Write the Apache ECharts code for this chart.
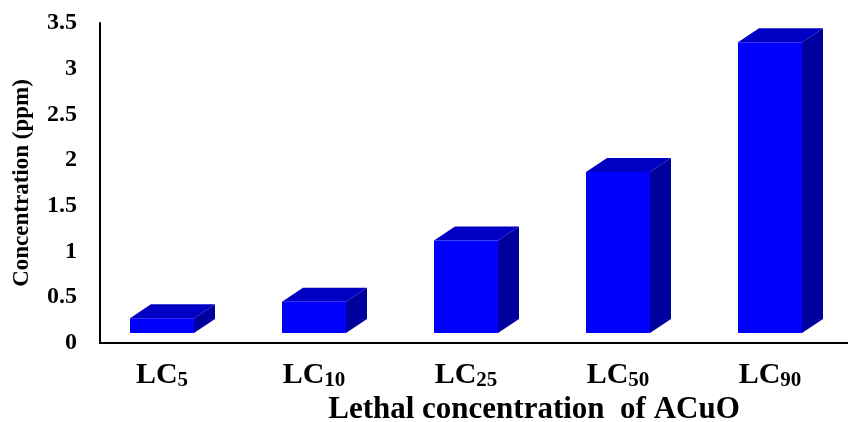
<!DOCTYPE html>
<html>
<head>
<meta charset="utf-8">
<script src="https://cdn.jsdelivr.net/npm/echarts@6/dist/echarts.min.js"></script>
<style>html,body{margin:0;padding:0;background:#fff}#c{width:848px;height:422px}</style>
</head>
<body>
<div id="c"></div>
<script>
// ---- data ----
const categories = ['5', '10', '25', '50', '90'];          // LC subscripts
const concentrations = [0.27, 0.45, 1.12, 1.87, 3.29];    // ppm
const yTickLabels = ['0', '0.5', '1', '1.5', '2', '2.5', '3', '3.5'];
const xTitle = 'Lethal concentration  of ACuO';
const yTitle = 'Concentration (ppm)';

const FONT = 'Liberation Serif';
const FRONT = '#0000FF', TOP = '#0000C4', SIDE = '#00009C';

function renderItem(params, api) {
  const idx = api.value(0);
  const v = api.value(1);
  const top = api.coord([idx, v]);
  const base = api.coord([idx, 0]);
  const w = 64, dx = 21, dy = 14, gap = 10;
  const xl = top[0] - w / 2, xr = top[0] + w / 2;
  const yt = top[1], yb = base[1] - gap;
  return {
    type: 'group',
    children: [
      { type: 'polygon', shape: { points: [[xr, yt], [xr + dx, yt - dy], [xr + dx, yb - dy], [xr, yb]] }, style: { fill: SIDE } },
      { type: 'polygon', shape: { points: [[xl, yt], [xl + dx, yt - dy], [xr + dx, yt - dy], [xr, yt]] }, style: { fill: TOP } },
      { type: 'rect', shape: { x: xl, y: yt, width: w, height: yb - yt }, style: { fill: FRONT } }
    ]
  };
}

const chart = echarts.init(document.getElementById('c'), null, { renderer: 'canvas' });
chart.setOption({
  animation: false,
  backgroundColor: '#fff',
  grid: [
    { left: 100, right: 0, top: 23, bottom: 79, containLabel: false, outerBoundsMode: 'none' },
    { left: 86, right: 2, top: 23, bottom: 79, containLabel: false, outerBoundsMode: 'none' }
  ],
  xAxis: [
    {
      gridIndex: 0, type: 'value', min: 0, max: 1,
      axisLine: { show: true, lineStyle: { color: '#000', width: 2 } },
      axisTick: { show: false }, axisLabel: { show: false }, splitLine: { show: false },
      name: xTitle, nameLocation: 'middle', nameGap: 51,
      nameTextStyle: { fontFamily: FONT, fontWeight: 'bold', fontSize: 31, color: '#000', padding: [0, 0, 0, 120] }
    },
    {
      gridIndex: 1, type: 'category', data: categories,
      axisLine: { show: false }, axisTick: { show: false }, splitLine: { show: false },
      axisLabel: {
        margin: 16,
        interval: 0,
        formatter: v => '{a|LC}{b|' + v + '}',
        rich: {
          a: { fontFamily: FONT, fontWeight: 'bold', fontSize: 30, color: '#000', lineHeight: 32 },
          b: { fontFamily: FONT, fontWeight: 'bold', fontSize: 21, color: '#000', lineHeight: 22, padding: [12, 0, 0, 0] }
        }
      }
    }
  ],
  yAxis: [
    {
      gridIndex: 0, type: 'value', min: 0, max: 3.5, interval: 0.5,
      axisLine: { show: true, lineStyle: { color: '#000', width: 2 } },
      axisTick: { show: false }, splitLine: { show: false },
      axisLabel: {
        margin: 23, fontFamily: FONT, fontWeight: 'bold', fontSize: 24, color: '#000',
        formatter: (v) => yTickLabels[Math.round(v / 0.5)]
      },
      name: yTitle, nameLocation: 'middle', nameGap: 66, nameRotate: 90,
      nameTextStyle: { fontFamily: FONT, fontWeight: 'bold', fontSize: 23, color: '#000' }
    },
    {
      gridIndex: 1, type: 'value', min: 0, max: 3.5, interval: 0.5, show: false
    }
  ],
  series: [{
    type: 'custom',
    xAxisIndex: 1, yAxisIndex: 1,
    renderItem: renderItem,
    encode: { x: 0, y: 1 },
    data: categories.map((c, i) => [i, concentrations[i]])
  }]
});
</script>
</body>
</html>
